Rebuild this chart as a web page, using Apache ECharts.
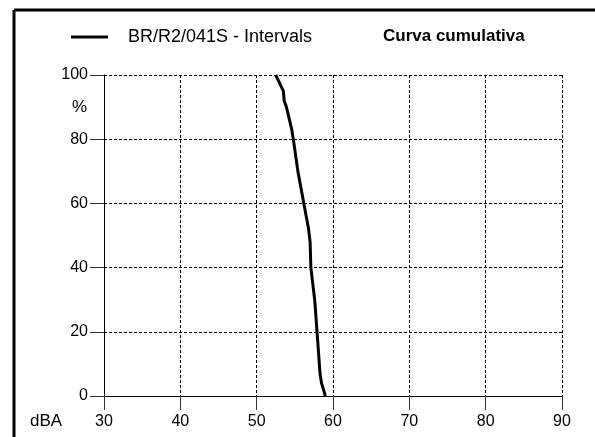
<!DOCTYPE html>
<html>
<head>
<meta charset="utf-8">
<script src="https://cdn.jsdelivr.net/npm/echarts@6/dist/echarts.min.js"></script>
<style>
html,body{margin:0;padding:0;background:#fff;}
#chart{width:595px;height:437px;}
</style>
</head>
<body>
<div id="chart"></div>
<script>
const seriesName = 'BR/R2/041S - Intervals';
const chartTitle = 'Curva cumulativa';
const levelsDBA = [59.0, 58.5, 58.3, 58.0, 57.6, 57.1, 57.0, 56.8, 56.1, 55.4, 54.8, 54.6, 53.9, 53.6, 53.5, 52.5];
const cumulativePct = [0, 4, 7, 17, 30, 40, 48, 52, 61, 70, 80, 83, 90, 92, 95, 100];
const xTicks = [30, 40, 50, 60, 70, 80, 90];
const yTicks = [0, 20, 40, 60, 80, 100];

const points = levelsDBA.map((v, i) => [v, cumulativePct[i]]);
const font = 'Liberation Sans, Arial, sans-serif';

const chart = echarts.init(document.getElementById('chart'), null, {renderer: 'canvas'});
chart.setOption({
  animation: false,
  backgroundColor: '#fff',
  title: {
    text: chartTitle,
    left: 378, top: 23,
    textStyle: {fontFamily: font, fontSize: 17, fontWeight: 'bold', color: '#000'}
  },
  legend: {
    left: 66, top: 23,
    data: [{name: seriesName, icon: 'rect'}],
    itemWidth: 37, itemHeight: 3,
    textStyle: {fontFamily: font, fontSize: 18, color: '#000', padding: [0, 0, 9, 15]}
  },
  grid: {left: 104, right: 33, top: 75, bottom: 41},
  xAxis: {
    type: 'value', min: xTicks[0], max: xTicks[xTicks.length - 1], interval: 10,
    axisLine: {show: true, lineStyle: {color: '#000', width: 1}},
    axisTick: {show: true, length: 14, lineStyle: {color: '#333'}},
    axisLabel: {margin: 18, fontFamily: font, fontSize: 16, color: '#000'},
    splitLine: {show: true, lineStyle: {color: '#000', type: [3, 2], width: 1}}
  },
  yAxis: {
    type: 'value', min: yTicks[0], max: yTicks[yTicks.length - 1], interval: 20,
    axisLine: {show: true, lineStyle: {color: '#000', width: 1}},
    axisTick: {show: true, length: 14, lineStyle: {color: '#333'}},
    axisLabel: {margin: 16, fontFamily: font, fontSize: 16, color: '#000'},
    splitLine: {show: true, lineStyle: {color: '#000', type: [3, 2], width: 1}}
  },
  graphic: [
    {type: 'line', shape: {x1: 14, y1: 10, x2: 14, y2: 437}, style: {stroke: '#000', lineWidth: 3}},
    {type: 'line', shape: {x1: 14, y1: 10, x2: 595, y2: 10}, style: {stroke: '#000', lineWidth: 3}},
    {type: 'text', left: 30, top: 413, style: {text: 'dBA', font: '17px ' + font, fill: '#000'}},
    {type: 'text', left: 72, top: 99, style: {text: '%', font: '17px ' + font, fill: '#000'}}
  ],
  series: [{
    name: seriesName,
    type: 'line',
    data: points,
    symbol: 'none',
    color: '#000',
    lineStyle: {color: '#000', width: 3},
    z: 5
  }]
});
</script>
</body>
</html>
